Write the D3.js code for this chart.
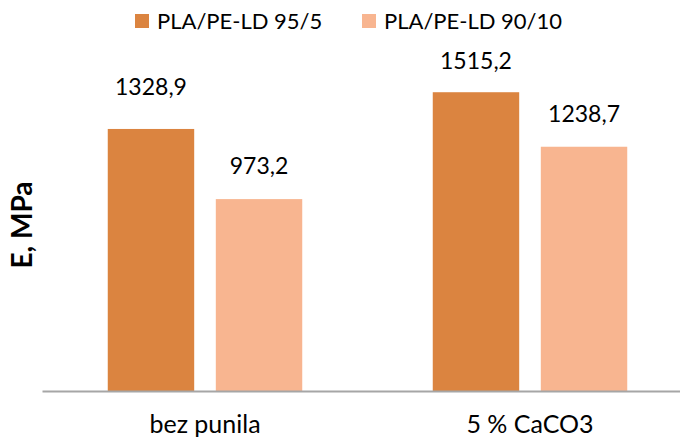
<!DOCTYPE html>
<html>
<head>
<meta charset="utf-8">
<script src="https://cdn.jsdelivr.net/npm/d3@7"></script>
<style>
  html, body { margin: 0; padding: 0; background: #fff; }
  svg { display: block; font-family: Lato, "Open Sans", sans-serif; }
</style>
</head>
<body>
<svg id="chart" width="680" height="441"></svg>
<script>
// Young's modulus of PLA/PE-LD blends, with and without filler
const categories = ["bez punila", "5 % CaCO3"];
const seriesNames = ["PLA/PE-LD 95/5", "PLA/PE-LD 90/10"];
const blend95 = [1328.9, 1515.2];
const blend90 = [973.2, 1238.7];
const seriesValues = [blend95, blend90];
const colors = ["#DB8440", "#F8B590"];
const yLabel = "E, MPa";

const fmt = v => d3.format(".1f")(v).replace(".", ",");

const svg = d3.select("#chart");
const W = 680, H = 441;
const plot = { left: 42.5, right: 692.5, top: 75.5, bottom: 391 };

const x = d3.scaleBand().domain(categories).range([plot.left, plot.right]).padding(0);
const xs = d3.scaleBand().domain(seriesNames).range([0, x.bandwidth()])
  .paddingInner(0.2).paddingOuter(0.604);
const y = d3.scaleLinear().domain([0, 1600]).range([plot.bottom, plot.top]);

const rows = [];
categories.forEach((c, ci) => {
  seriesNames.forEach((s, si) => {
    rows.push({ cat: c, series: s, si, value: seriesValues[si][ci] });
  });
});

// bars
svg.append("g").selectAll("rect").data(rows).join("rect")
  .attr("x", d => x(d.cat) + xs(d.series))
  .attr("y", d => y(d.value))
  .attr("width", xs.bandwidth())
  .attr("height", d => y(0) - y(d.value))
  .attr("fill", d => colors[d.si]);

// value labels above the bars
const labelGap = [34, 25, 23, 25];
svg.append("g").selectAll("text").data(rows).join("text")
  .attr("x", d => x(d.cat) + xs(d.series) + xs.bandwidth() / 2)
  .attr("y", (d, i) => y(d.value) - labelGap[i])
  .attr("text-anchor", "middle")
  .attr("font-size", 23)
  .attr("fill", "#000")
  .text(d => fmt(d.value));

// category axis (no ticks, gray baseline)
const xAxis = svg.append("g")
  .attr("transform", `translate(0,${plot.bottom})`)
  .call(d3.axisBottom(x).tickSize(0).tickPadding(24));
xAxis.select(".domain").remove();
xAxis.selectAll("text").attr("font-size", 25).attr("font-family", "Lato, sans-serif").attr("fill", "#000");
svg.append("line")
  .attr("x1", plot.left).attr("x2", W)
  .attr("y1", plot.bottom + 0.5).attr("y2", plot.bottom + 0.5)
  .attr("stroke", "#A6A6A6").attr("stroke-width", 2);

// y axis title
svg.append("text")
  .attr("transform", `translate(32,225) rotate(-90)`)
  .attr("text-anchor", "middle")
  .attr("font-size", 28)
  .attr("font-weight", "bold")
  .text(yLabel);

// legend
const legendX = [135, 362];
const lg = svg.append("g").selectAll("g").data(seriesNames).join("g")
  .attr("transform", (d, i) => `translate(${legendX[i]},14)`);
lg.append("rect").attr("width", 14).attr("height", 14).attr("fill", (d, i) => colors[i]);
lg.append("text").attr("x", 22).attr("y", 14.5).attr("font-size", 22).text(d => d);
</script>
</body>
</html>
